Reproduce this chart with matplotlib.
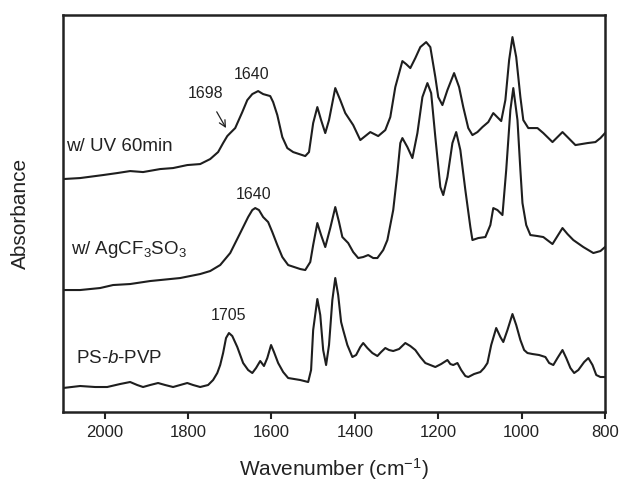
import numpy as np
import matplotlib
matplotlib.use("Agg")
import matplotlib.pyplot as plt

plt.rcParams['font.family'] = ['Liberation Sans', 'DejaVu Sans']
plt.rcParams['mathtext.fontset'] = 'custom'
plt.rcParams['mathtext.rm'] = 'Liberation Sans'
plt.rcParams['mathtext.it'] = 'Liberation Sans:italic'

# spectra (wavenumber in cm-1, absorbance in a.u., already offset)
wn_uv = [2100, 2059, 2004, 1970, 1939, 1908, 1867, 1836, 1802, 1771, 1747, 1728, 1716, 1706,
         1699, 1687, 1670, 1658, 1646, 1632, 1620, 1603, 1596, 1586, 1574, 1562, 1548, 1519,
         1510, 1500, 1490, 1481, 1471, 1462, 1447, 1435, 1423, 1404, 1387, 1375, 1363, 1344,
         1327, 1315, 1303, 1286, 1277, 1267, 1255, 1243, 1229, 1219, 1207, 1200, 1190, 1178,
         1162, 1150, 1140, 1128, 1118, 1106, 1094, 1080, 1068, 1049, 1039, 1030, 1022, 1013,
         1003, 996, 984, 962, 948, 926, 914, 902, 890, 871, 842, 823, 811, 800]
abs_uv = [2.33, 2.34, 2.37, 2.39, 2.41, 2.40, 2.43, 2.44, 2.47, 2.48, 2.53, 2.60, 2.69, 2.76,
          2.79, 2.84, 3.00, 3.12, 3.18, 3.21, 3.18, 3.16, 3.10, 2.97, 2.75, 2.64, 2.60, 2.56,
          2.60, 2.89, 3.05, 2.92, 2.79, 2.92, 3.24, 3.12, 2.99, 2.87, 2.72, 2.76, 2.80, 2.76,
          2.82, 2.95, 3.25, 3.51, 3.48, 3.44, 3.54, 3.65, 3.70, 3.65, 3.35, 3.15, 3.07, 3.22,
          3.39, 3.25, 3.05, 2.84, 2.77, 2.80, 2.85, 2.90, 2.99, 2.91, 3.12, 3.52, 3.75, 3.55,
          3.15, 2.92, 2.84, 2.84, 2.79, 2.70, 2.75, 2.80, 2.75, 2.67, 2.69, 2.70, 2.74, 2.79]

wn_ag = [2100, 2059, 2011, 1980, 1939, 1891, 1867, 1819, 1771, 1747, 1723, 1699, 1675, 1656,
         1646, 1639, 1630, 1620, 1608, 1598, 1586, 1574, 1560, 1531, 1519, 1507, 1500, 1490,
         1481, 1471, 1459, 1447, 1438, 1430, 1416, 1404, 1392, 1380, 1368, 1356, 1346, 1332,
         1322, 1308, 1298, 1291, 1286, 1274, 1262, 1250, 1238, 1226, 1217, 1207, 1195, 1188,
         1178, 1166, 1157, 1147, 1135, 1123, 1118, 1104, 1087, 1075, 1068, 1058, 1046, 1037,
         1027, 1020, 1010, 1003, 998, 989, 979, 962, 948, 926, 914, 902, 890, 876, 852, 828,
         811, 800]
abs_ag = [1.22, 1.22, 1.24, 1.27, 1.28, 1.31, 1.32, 1.34, 1.38, 1.41, 1.47, 1.59, 1.79, 1.95,
          2.02, 2.04, 2.02, 1.95, 1.90, 1.80, 1.67, 1.55, 1.47, 1.43, 1.42, 1.50, 1.67, 1.89,
          1.77, 1.65, 1.84, 2.05, 1.90, 1.75, 1.69, 1.60, 1.54, 1.55, 1.57, 1.54, 1.54, 1.62,
          1.72, 2.02, 2.39, 2.69, 2.74, 2.65, 2.54, 2.79, 3.15, 3.29, 3.19, 2.75, 2.25, 2.17,
          2.35, 2.69, 2.80, 2.62, 2.22, 1.85, 1.72, 1.74, 1.75, 1.87, 2.04, 2.02, 1.97, 2.42,
          3.02, 3.24, 2.92, 2.42, 2.09, 1.87, 1.77, 1.76, 1.75, 1.68, 1.76, 1.84, 1.78, 1.72,
          1.65, 1.59, 1.61, 1.65]

wn_ps = [2100, 2059, 2023, 1994, 1963, 1939, 1922, 1908, 1891, 1872, 1855, 1836, 1819, 1802,
         1788, 1771, 1752, 1740, 1730, 1723, 1716, 1709, 1702, 1694, 1682, 1668, 1656, 1646,
         1637, 1627, 1618, 1610, 1601, 1594, 1584, 1572, 1560, 1531, 1512, 1505, 1500, 1490,
         1483, 1476, 1469, 1462, 1454, 1447, 1440, 1433, 1428, 1418, 1406, 1397, 1387, 1380,
         1370, 1358, 1346, 1337, 1327, 1318, 1308, 1294, 1279, 1267, 1255, 1243, 1231, 1207,
         1193, 1178, 1171, 1164, 1154, 1145, 1135, 1128, 1114, 1099, 1090, 1082, 1073, 1061,
         1051, 1044, 1034, 1022, 1013, 1003, 994, 986, 974, 958, 943, 934, 924, 914, 902, 893,
         883, 874, 864, 850, 840, 830, 821, 811, 800]
abs_ps = [0.24, 0.26, 0.25, 0.25, 0.28, 0.30, 0.27, 0.25, 0.27, 0.29, 0.27, 0.25, 0.27, 0.29,
          0.27, 0.25, 0.27, 0.32, 0.39, 0.47, 0.59, 0.74, 0.79, 0.76, 0.65, 0.49, 0.42, 0.39,
          0.44, 0.51, 0.46, 0.54, 0.67, 0.60, 0.49, 0.40, 0.34, 0.32, 0.30, 0.42, 0.82, 1.13,
          0.97, 0.62, 0.47, 0.67, 1.12, 1.34, 1.17, 0.90, 0.82, 0.67, 0.55, 0.57, 0.65, 0.69,
          0.64, 0.59, 0.56, 0.60, 0.64, 0.62, 0.61, 0.63, 0.69, 0.66, 0.62, 0.55, 0.49, 0.45,
          0.48, 0.52, 0.48, 0.47, 0.49, 0.42, 0.36, 0.35, 0.38, 0.40, 0.44, 0.49, 0.67, 0.84,
          0.75, 0.70, 0.82, 0.98, 0.87, 0.72, 0.62, 0.59, 0.58, 0.57, 0.55, 0.49, 0.47, 0.54,
          0.62, 0.54, 0.44, 0.39, 0.42, 0.50, 0.54, 0.47, 0.37, 0.35, 0.35]

fig = plt.figure(figsize=(6.22, 4.87), dpi=100)
ax = fig.add_axes([0.1013, 0.154, 0.8714, 0.815])

lc = '#1e1e1e'
for wn, a in [(wn_uv, abs_uv), (wn_ag, abs_ag), (wn_ps, abs_ps)]:
    ax.plot(wn, a, color=lc, lw=1.5, solid_joinstyle='round')

ax.set_xlim(2100, 800)
ax.set_ylim(0, 3.97)
ax.set_xticks([2000, 1800, 1600, 1400, 1200, 1000, 800])
ax.set_yticks([])
ax.tick_params(axis='x', direction='out', length=5, width=1.5, labelsize=12, pad=4, colors='#222222')
for s in ax.spines.values():
    s.set_linewidth(1.8)
    s.set_color('#222222')

ax.set_xlabel('Wavenumber (cm$^{-1}$)', fontsize=15, labelpad=12, color='#222222')
ax.set_ylabel('Absorbance', fontsize=15, labelpad=24, color='#222222')

# curve labels
ax.text(2093, 2.66, 'w/ UV 60min', fontsize=13.5, va='center', ha='left', color='#222222')
ax.text(2081, 1.63, 'w/ AgCF$_3$SO$_3$', fontsize=13.5, va='center', ha='left', color='#222222')
ax.text(2069, 0.54, 'PS-$\\it{b}$-PVP', fontsize=13.5, va='center', ha='left', color='#222222')

# peak annotations
ax.text(1647, 3.38, '1640', fontsize=11.5, ha='center', va='center', color='#222222')
ax.text(1642, 2.18, '1640', fontsize=11.5, ha='center', va='center', color='#222222')
ax.text(1702, 0.97, '1705', fontsize=11.5, ha='center', va='center', color='#222222')
ax.annotate('1698', xy=(1709, 2.84), xytext=(1757, 3.19), fontsize=11.5,
            ha='center', va='center', color='#222222',
            arrowprops=dict(arrowstyle='->', color='#222222', lw=0.9,
                            shrinkA=7, shrinkB=0))

fig.savefig('out.png', dpi=100)
